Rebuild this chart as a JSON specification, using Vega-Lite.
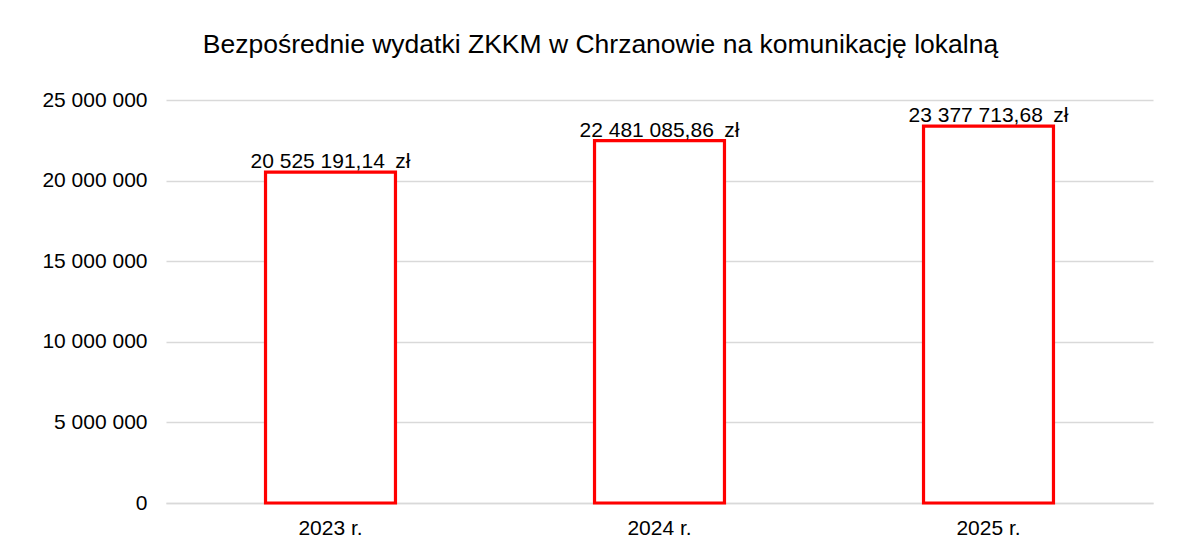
{
  "$schema": "https://vega.github.io/schema/vega-lite/v6.json",
  "width": 987,
  "height": 403,
  "autosize": "none",
  "padding": {"left": 166, "top": 100, "right": 26, "bottom": 42},
  "background": "white",
  "title": {
    "text": "Bezpośrednie wydatki ZKKM w Chrzanowie na komunikację lokalną",
    "anchor": "middle",
    "frame": "group",
    "dx": -59,
    "offset": 10,
    "baseline": "alphabetic",
    "font": "Liberation Sans",
    "fontSize": 26.5,
    "fontWeight": "normal",
    "color": "#000000"
  },
  "data": {
    "values": [
      {"rok": "2023 r.", "wydatki": 20525191.14},
      {"rok": "2024 r.", "wydatki": 22481085.86},
      {"rok": "2025 r.", "wydatki": 23377713.68}
    ]
  },
  "encoding": {
    "x": {
      "field": "rok",
      "type": "nominal",
      "sort": null,
      "scale": {"paddingInner": 0.605, "paddingOuter": 0.3025},
      "axis": {
        "title": null,
        "labelAngle": 0,
        "ticks": false,
        "domainColor": "#d9d9d9",
        "domainWidth": 1.3,
        "labelPadding": 14,
        "labelFont": "Liberation Sans",
        "labelFontSize": 21,
        "labelColor": "#000000"
      }
    },
    "y": {
      "field": "wydatki",
      "type": "quantitative",
      "scale": {"domain": [0, 25000000], "nice": false},
      "axis": {
        "title": null,
        "values": [0, 5000000, 10000000, 15000000, 20000000, 25000000],
        "format": ",d",
        "ticks": false,
        "domain": false,
        "grid": true,
        "gridColor": "#d9d9d9",
        "gridWidth": 1.3,
        "labelPadding": 19,
        "labelFont": "Liberation Sans",
        "labelFontSize": 21,
        "labelColor": "#000000"
      }
    }
  },
  "layer": [
    {
      "mark": {"type": "bar", "fill": "white", "stroke": "#ff0000", "strokeWidth": 3.2}
    },
    {
      "mark": {
        "type": "text",
        "baseline": "alphabetic",
        "dy": -4,
        "font": "Liberation Sans",
        "fontSize": 21,
        "color": "#000000"
      },
      "encoding": {
        "text": {"field": "wydatki", "type": "quantitative", "format": "$,.2f"}
      }
    }
  ],
  "config": {
    "view": {"stroke": null},
    "locale": {
      "number": {
        "decimal": ",",
        "thousands": " ",
        "grouping": [3],
        "currency": ["", "\u2002zł"]
      }
    }
  }
}
